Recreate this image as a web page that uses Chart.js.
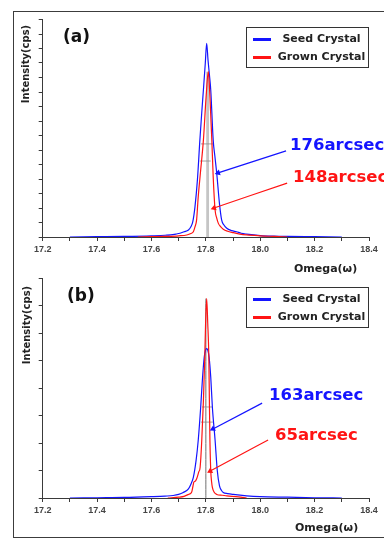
<!DOCTYPE html>
<html><head><meta charset="utf-8">
<script src="https://cdn.jsdelivr.net/npm/chart.js@4.4.1/dist/chart.umd.min.js"></script>
<style>
html,body{margin:0;padding:0;background:#fff;width:384px;height:539px;overflow:hidden;position:relative;font-family:'DejaVu Sans',sans-serif;}
.abs{position:absolute;white-space:nowrap;}
#frame{left:13px;top:11px;width:420px;height:525px;border:1px solid #3c3c3c;}
canvas{position:absolute;left:0;}
.panel{font:bold 17px 'DejaVu Sans';line-height:17px;color:#111;}
.legend{border:1px solid #333;background:#fff;box-sizing:border-box;width:123px;height:41px;}
.leg-row{position:absolute;left:26px;width:97px;text-align:center;height:14px;font:bold 11px 'DejaVu Sans';line-height:14px;color:#222;}
.leg-line{position:absolute;left:6px;width:18px;height:3px;}
.ytitle{width:90px;text-align:center;font:bold 10px 'DejaVu Sans';line-height:12px;height:12px;color:#222;transform:rotate(-90deg);}
.xtitle{font:bold 11px 'DejaVu Sans';line-height:13px;color:#222;}
.note{font:bold 16.5px 'DejaVu Sans';line-height:16.5px;}
</style></head>
<body>
<div id="frame" class="abs"></div>
<canvas id="c1" width="384" height="260" style="top:0px;width:384px;height:260px"></canvas>
<canvas id="c2" width="384" height="279" style="top:260px;width:384px;height:279px"></canvas>
<div id="overlay"></div>
<script>
// ---------------- data ----------------
const xTickLabels = ['17.2','17.4','17.6','17.8','18.0','18.2','18.4'];
const seriesNames = ['Seed Crystal','Grown Crystal'];
const panelLabels = ['(a)','(b)'];
const yTitle = 'Intensity(cps)';
const xTitle = 'Omega(\u03c9)';

// panel (a)
const seedA_omega = [17.30,17.40,17.50,17.60,17.65,17.67,17.69,17.705,17.72,17.736,17.745,17.752,17.760,17.769,17.778,17.785,17.791,17.798,17.803,17.808,17.813,17.818,17.827,17.833,17.840,17.850,17.858,17.866,17.877,17.895,17.913,17.93,17.95,18.00,18.05,18.10,18.20,18.30];
const seedA_int   = [0.00,0.01,0.02,0.04,0.06,0.07,0.10,0.13,0.18,0.24,0.35,0.53,1.04,1.97,3.34,4.30,5.07,6.00,6.68,6.10,5.60,5.07,3.34,2.80,2.20,1.16,0.59,0.42,0.30,0.22,0.18,0.13,0.10,0.05,0.03,0.02,0.01,0.00];
const grownA_omega = [17.55,17.60,17.65,17.70,17.73,17.745,17.754,17.760,17.766,17.772,17.781,17.791,17.801,17.809,17.815,17.822,17.827,17.834,17.840,17.846,17.855,17.864,17.88,17.901,17.925,17.95,18.00,18.05,18.10];
const grownA_int   = [0.00,0.01,0.02,0.04,0.07,0.12,0.18,0.35,0.59,1.39,2.31,3.34,4.84,5.70,4.84,3.34,2.08,0.93,0.65,0.47,0.35,0.27,0.20,0.15,0.10,0.07,0.04,0.02,0.00];
const bandA_omega = [17.801,17.812];
const bandA_int = [5.7,5.7];
const fwhmA = [[17.782,17.826,3.21],[17.778,17.818,2.62]];
const notesA = ['176arcsec','148arcsec'];
const arrowsA = [[18.095,2.97,17.845,2.21],[18.099,1.86,17.830,1.00]];

// panel (b)
const seedB_omega = [17.30,17.40,17.50,17.60,17.65,17.68,17.70,17.717,17.736,17.745,17.754,17.764,17.772,17.781,17.788,17.794,17.799,17.803,17.807,17.812,17.818,17.824,17.834,17.842,17.850,17.857,17.864,17.88,17.901,17.95,18.00,18.10,18.20,18.30];
const seedB_int   = [0.00,0.01,0.02,0.05,0.07,0.09,0.13,0.20,0.33,0.50,0.75,1.36,2.10,3.30,4.40,5.12,5.38,5.43,5.38,5.12,4.40,3.30,2.10,1.00,0.45,0.28,0.20,0.16,0.13,0.08,0.05,0.03,0.01,0.00];
const grownB_omega = [17.66,17.70,17.72,17.736,17.748,17.752,17.756,17.762,17.768,17.774,17.779,17.785,17.791,17.796,17.799,17.803,17.807,17.811,17.813,17.815,17.818,17.821,17.824,17.830,17.840,17.860,17.877,17.92,17.95];
const grownB_int   = [0.00,0.03,0.06,0.13,0.22,0.40,0.58,0.62,0.75,0.95,1.12,2.10,3.54,5.12,6.34,7.25,6.34,5.12,3.54,2.10,1.00,0.60,0.39,0.22,0.13,0.10,0.08,0.04,0.00];
const lineB_omega = [17.800,17.800];
const lineB_int = [0,7.25];
const fwhmB = [[17.786,17.823,3.31],[17.782,17.826,2.76]];
const notesB = ['163arcsec','65arcsec'];
const arrowsB = [[18.007,3.45,17.826,2.51],[18.029,2.11,17.816,0.98]];

// ---------------- styles ----------------
const BLUE = '#1414ff', RED = '#ff1414', AXIS = '#3a3a3a';
const pts = (xs, ys) => xs.map((x, i) => ({x, y: ys[i]}));

function arrowDataset(a, color) {
  return {
    data: [{x: a[0], y: a[1]}, {x: a[2], y: a[3]}],
    borderColor: color, borderWidth: 1.2, order: -1,
    pointRadius: [0, 3.5], pointStyle: 'triangle',
    pointBackgroundColor: color, pointBorderColor: color, pointBorderWidth: 0,
    pointRotation: (ctx) => {
      const c = ctx.chart, xs = c.scales.x, ys = c.scales.y;
      if (!xs || !ys) return 0;
      const d = ctx.dataset.data;
      const dx = xs.getPixelForValue(d[1].x) - xs.getPixelForValue(d[0].x);
      const dy = ys.getPixelForValue(d[1].y) - ys.getPixelForValue(d[0].y);
      return Math.atan2(dy, dx) * 180 / Math.PI + 90;
    }
  };
}

function makeChart(id, o) {
  const datasets = [
    {label: seriesNames[1], data: pts(o.grownX, o.grownY), borderColor: RED, borderWidth: 1.2, order: 0},
    {label: seriesNames[0], data: pts(o.seedX, o.seedY), borderColor: BLUE, borderWidth: 1.2, order: 1},
  ];
  if (o.band) datasets.push({data: pts(o.band[0], o.band[1]), borderColor: 'rgba(0,0,0,0)', borderWidth: 0,
    backgroundColor: 'rgba(150,150,150,0.55)', fill: 'origin', order: 3});
  if (o.vline) datasets.push({data: pts(o.vline[0], o.vline[1]), borderColor: '#707070', borderWidth: 1, order: 3});
  o.fwhm.forEach(f => datasets.push({data: [{x: f[0], y: f[2]}, {x: f[1], y: f[2]}], borderColor: '#8a8a8a', borderWidth: 0.8, order: 2}));
  o.arrows.forEach((a, i) => datasets.push(arrowDataset(a, i === 0 ? BLUE : RED)));
  datasets.forEach(d => { d.cubicInterpolationMode = d.cubicInterpolationMode || 'monotone'; if (d.pointRadius === undefined) d.pointRadius = 0; });

  return new Chart(document.getElementById(id), {
    type: 'line',
    data: {datasets},
    options: {
      responsive: false, animation: false, events: [], devicePixelRatio: 1,
      layout: {padding: {left: 0, right: 15, top: o.padTop, bottom: 0}},
      plugins: {legend: {display: false}, tooltip: {enabled: false}},
      scales: {
        x: {
          type: 'linear', min: 17.2, max: 18.4,
          afterFit: s => { s.height = o.xH; },
          border: {display: true, color: AXIS, width: 1},
          grid: {drawOnChartArea: false, drawTicks: true, tickLength: 4, tickColor: AXIS},
          ticks: {stepSize: 0.1, maxTicksLimit: 100, autoSkip: false, maxRotation: 0, padding: 3,
            color: '#444', font: {family: 'Liberation Sans', weight: 'bold', size: 9},
            callback: v => {
              const lab = v.toFixed(1);
              return xTickLabels.includes(lab) ? lab : '';
            }}
        },
        y: {
          type: 'linear', min: 0, max: o.yMax,
          afterFit: s => { s.width = 42.7; },
          border: {display: true, color: AXIS, width: 1},
          grid: {drawOnChartArea: false, drawTicks: true, tickLength: 4, tickColor: AXIS},
          ticks: {stepSize: o.yStep, maxTicksLimit: 100, autoSkip: false, font: {size: 1}, callback: () => ''}
        }
      }
    }
  });
}

makeChart('c1', {seedX: seedA_omega, seedY: seedA_int, grownX: grownA_omega, grownY: grownA_int,
  band: [bandA_omega, bandA_int], fwhm: fwhmA, arrows: arrowsA, yMax: 7.5, yStep: 0.5, padTop: 19.5, xH: 23});
makeChart('c2', {seedX: seedB_omega, seedY: seedB_int, grownX: grownB_omega, grownY: grownB_int,
  vline: [lineB_omega, lineB_int], fwhm: fwhmB, arrows: arrowsB, yMax: 8, yStep: 1, padTop: 18, xH: 41});

// ---------------- text overlays ----------------
const ov = document.getElementById('overlay');
function add(cls, text, css) {
  const d = document.createElement('div');
  d.className = 'abs ' + cls;
  if (text !== null) d.textContent = text;
  Object.assign(d.style, css);
  ov.appendChild(d);
  return d;
}
function legend(top) {
  const box = add('legend', null, {left: '246px', top: top + 'px'});
  [[BLUE, seriesNames[0], 12], [RED, seriesNames[1], 30]].forEach(([c, t, cy]) => {
    const l = document.createElement('div'); l.className = 'leg-line';
    l.style.background = c; l.style.top = (cy - 1.5 - 1) + 'px'; box.appendChild(l);
    const r = document.createElement('div'); r.className = 'leg-row';
    r.textContent = t; r.style.top = (cy - 7 - 1) + 'px'; box.appendChild(r);
  });
}
add('panel', panelLabels[0], {left: '63px', top: '28px'});
add('panel', panelLabels[1], {left: '67px', top: '287px'});
legend(27); legend(287);
add('ytitle', yTitle, {left: '-19px', top: '58px'});
add('ytitle', yTitle, {left: '-18px', top: '319px'});
add('xtitle', xTitle, {left: '294px', top: '261.5px'});
add('xtitle', xTitle, {left: '295px', top: '520.5px'});
add('note', notesA[0], {left: '290px', top: '137px', color: BLUE});
add('note', notesA[1], {left: '293px', top: '168.5px', color: RED});
add('note', notesB[0], {left: '269px', top: '387px', color: BLUE});
add('note', notesB[1], {left: '275px', top: '427px', color: RED});
</script>
</body></html>
